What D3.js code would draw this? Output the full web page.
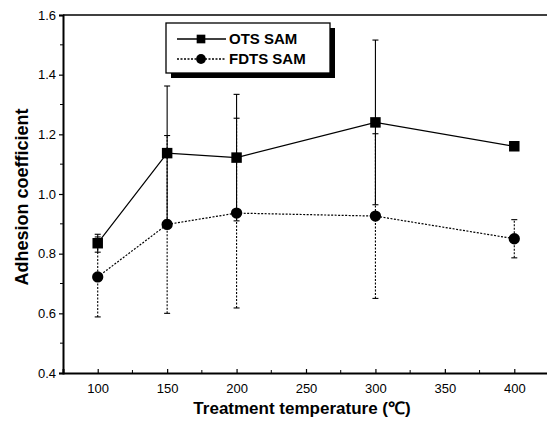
<!DOCTYPE html>
<html><head><meta charset="utf-8">
<script src="https://cdn.jsdelivr.net/npm/d3@7"></script>
<style>body{margin:0;background:#fff}svg{display:block}</style>
</head><body>
<script>
const temps = [100, 150, 200, 300, 400];
const otsMean = [0.835, 1.137, 1.122, 1.240, 1.160];
const otsErr  = [0.030, 0.225, 0.212, 0.276, 0.012];
const fdtsMean = [0.722, 0.898, 0.936, 0.926, 0.850];
const fdtsErr  = [0.134, 0.298, 0.318, 0.276, 0.064];
const xTicks = [100, 150, 200, 250, 300, 350, 400];
const yTicks = [0.4, 0.6, 0.8, 1.0, 1.2, 1.4, 1.6];
const seriesNames = ["OTS SAM", "FDTS SAM"];

const W = 547, H = 424;
const svg = d3.select("body").append("svg").attr("width", W).attr("height", H);
const x = d3.scaleLinear().domain([75, 425]).range([63, 549]);
const y = d3.scaleLinear().domain([0.4, 1.6]).range([373, 15]);
const font = "Liberation Sans, Arial, sans-serif";

// frame top
svg.append("line").attr("x1", x(75)).attr("x2", x(425)).attr("y1", y(1.6)).attr("y2", y(1.6)).attr("stroke", "#000").attr("stroke-width", 1.5);

// axes
const yAxis = d3.axisLeft(y).tickValues(yTicks).tickFormat(d3.format(".1f")).tickSize(4).tickPadding(3);
const gy = svg.append("g").attr("transform", `translate(${x(75)},0)`).call(yAxis);
const xAxis = d3.axisBottom(x).tickValues(xTicks).tickFormat(d3.format("d")).tickSize(-4).tickPadding(11);
const gx = svg.append("g").attr("transform", `translate(0,${y(0.4)})`).call(xAxis);
[gx, gy].forEach(g => {
  g.select(".domain").attr("stroke-width", 2);
  g.selectAll(".tick line").attr("stroke-width", 1.2);
  g.selectAll("text").attr("font-family", font).attr("font-size", 13).attr("fill", "#000");
});
// minor ticks
const yMinor = d3.range(0.5, 1.6, 0.2);
svg.append("g").selectAll("line").data(yMinor).join("line")
  .attr("x1", x(75)-3).attr("x2", x(75)).attr("y1", d => y(d)).attr("y2", d => y(d)).attr("stroke", "#000");
const xMinor = [125, 175, 225, 275, 325, 375];
svg.append("g").selectAll("line").data(xMinor).join("line")
  .attr("x1", d => x(d)).attr("x2", d => x(d)).attr("y1", y(0.4)).attr("y2", y(0.4)-3).attr("stroke", "#000");

// titles
svg.append("text").attr("x", 302).attr("y", 414).attr("text-anchor", "middle")
  .attr("font-family", font).attr("font-weight", "bold").attr("font-size", 17).text("Treatment temperature (℃)");
svg.append("text").attr("transform", `translate(28,${y(1.0) + 3}) rotate(-90)`).attr("text-anchor", "middle")
  .attr("font-family", font).attr("font-weight", "bold").attr("font-size", 18).text("Adhesion coefficient");

function drawSeries(mean, err, dash, shape) {
  const data = temps.map((t, i) => ({t, m: mean[i], e: err[i]}));
  const g = svg.append("g");
  const line = d3.line().x(d => x(d.t)).y(d => y(d.m));
  g.append("path").datum(data).attr("d", line).attr("fill", "none").attr("stroke", "#000")
    .attr("stroke-width", 1.2).attr("stroke-dasharray", dash);
  const eb = g.selectAll(".eb").data(data).join("g");
  eb.append("line").attr("x1", d => x(d.t)).attr("x2", d => x(d.t)).attr("y1", d => y(d.m - d.e)).attr("y2", d => y(d.m + d.e))
    .attr("stroke", "#000").attr("stroke-width", 1.1).attr("stroke-dasharray", dash);
  [-1, 1].forEach(s => {
    eb.append("line").attr("x1", d => x(d.t) - 3).attr("x2", d => x(d.t) + 3)
      .attr("y1", d => y(d.m + s * d.e)).attr("y2", d => y(d.m + s * d.e)).attr("stroke", "#000").attr("stroke-width", 1.1);
  });
  const sym = d3.symbol().type(shape).size(shape === d3.symbolSquare ? 110 : 100);
  g.selectAll(".pt").data(data).join("path").attr("d", sym)
    .attr("transform", d => `translate(${x(d.t)},${y(d.m)})`).attr("fill", "#000");
}
drawSeries(otsMean, otsErr, null, d3.symbolSquare);
drawSeries(fdtsMean, fdtsErr, "2,1.5", d3.symbolCircle);

// legend
const lg = svg.append("g");
lg.append("rect").attr("x", 171).attr("y", 28).attr("width", 164).attr("height", 50).attr("fill", "#000");
lg.append("rect").attr("x", 166).attr("y", 23).attr("width", 164).attr("height", 50).attr("fill", "#fff").attr("stroke", "#000").attr("stroke-width", 1.3);
const rows = [{n: seriesNames[0], yy: 39, dash: null, s: d3.symbolSquare}, {n: seriesNames[1], yy: 59, dash: "2,1.5", s: d3.symbolCircle}];
rows.forEach(r => {
  lg.append("line").attr("x1", 177).attr("x2", 226).attr("y1", r.yy).attr("y2", r.yy).attr("stroke", "#000").attr("stroke-width", 1.3).attr("stroke-dasharray", r.dash);
  lg.append("path").attr("d", d3.symbol().type(r.s).size(75)).attr("transform", `translate(201,${r.yy})`).attr("fill", "#000");
  lg.append("text").attr("x", 229).attr("y", r.yy + 5).attr("font-family", font).attr("font-weight", "bold").attr("font-size", 15).text(r.n);
});
</script>
</body></html>
